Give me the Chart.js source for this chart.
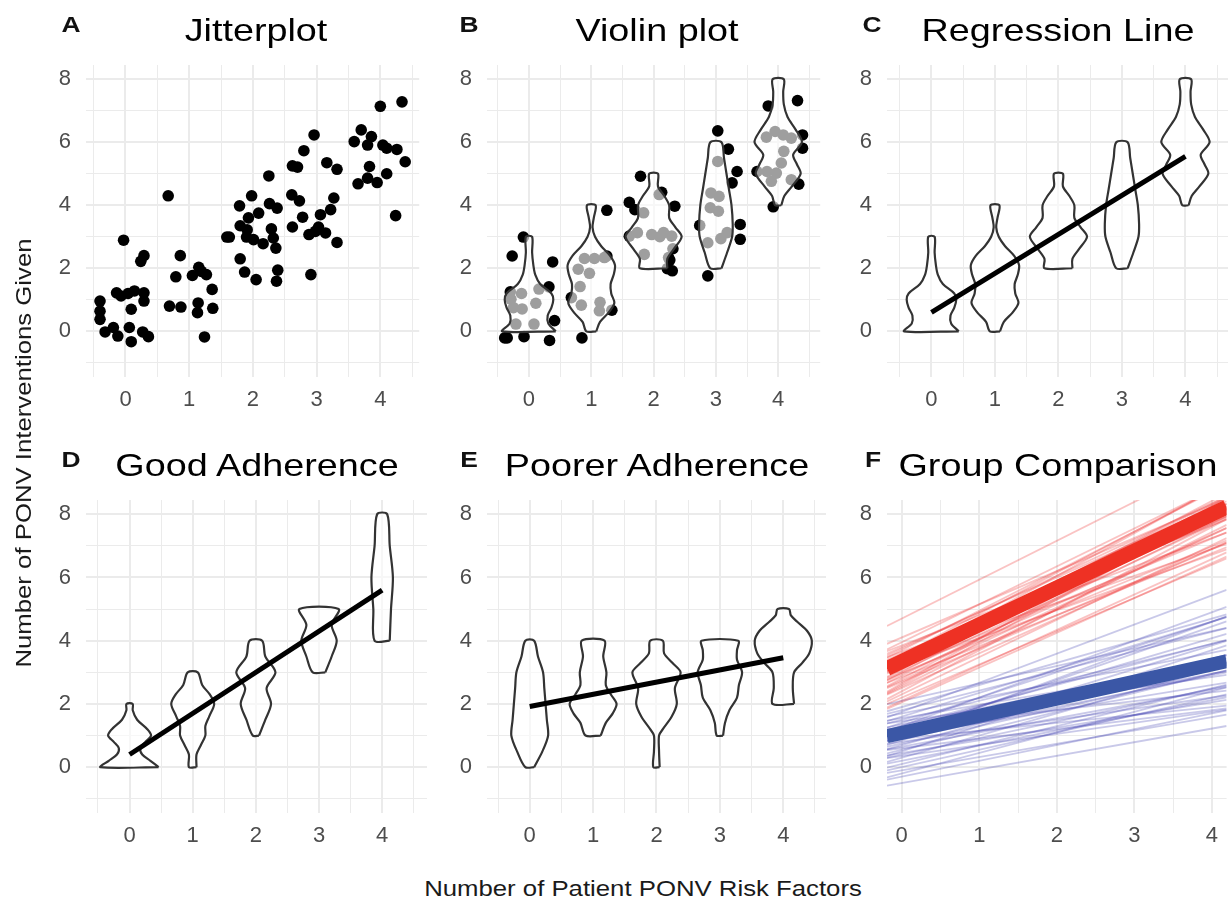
<!DOCTYPE html>
<html>
<head>
<meta charset="utf-8">
<title>PONV risk factors and interventions</title>
<script src="https://cdn.jsdelivr.net/npm/chart.js@4.4.1/dist/chart.umd.min.js"></script>
<style>
  html, body { margin: 0; padding: 0; background: #fff; overflow: hidden; }
  #figure { position: relative; width: 1228px; height: 901px; font-family: 'Liberation Sans', Arial, sans-serif; }
  #figure canvas { position: absolute; }
  .txt { position: absolute; width: 600px; text-align: center; white-space: nowrap; transform-origin: 50% 50%; }
  .title { font-size: 32px; line-height: 40px; color: #000; transform: scaleX(1.18); }
  .tag { font-size: 22px; line-height: 24px; font-weight: bold; color: #111; transform: scaleX(1.2); }
  .axis { font-size: 22px; line-height: 26px; color: #1a1a1a; }
</style>
</head>
<body>
<div id="figure"></div>
<script>
// ---------------- data ----------------
const RISK_FACTORS = [0, 1, 2, 3, 4];
const X_GRID = [-0.5, 0, 0.5, 1, 1.5, 2, 2.5, 3, 3.5, 4, 4.5];
const Y_GRID = [-1, 0, 1, 2, 3, 4, 5, 6, 7, 8];
const Y_LABELS = [0, 2, 4, 6, 8];

const PANEL_TAGS = ['A', 'B', 'C', 'D', 'E', 'F'];
const PANEL_TITLES = ['Jitterplot', 'Violin plot', 'Regression Line', 'Good Adherence', 'Poorer Adherence', 'Group Comparison'];
const X_TITLE = 'Number of Patient PONV Risk Factors';
const Y_TITLE = 'Number of PONV Interventions Given';

// A: jittered patients (risk factors, interventions)
const JITTER_X = [-0.40, -0.40, -0.40, -0.32, -0.19, -0.12, -0.14, -0.07, -0.03, 0.04, 0.14, 0.09, 0.06, 0.09, 0.24, 0.29, 0.29, 0.29, 0.27, 0.36,
  0.67, 0.86, 0.79, 0.69, 0.87, 1.05, 1.15, 1.19, 1.27, 1.14, 1.13, 1.36, 1.37, 1.24,
  1.59, 1.63, 1.79, 1.80, 1.80, 1.87, 1.98, 1.93, 2.09, 1.91, 1.90, 2.01, 2.16, 2.05, 2.25, 2.26, 2.38, 2.29, 2.32, 2.36, 2.39, 2.37,
  2.62, 2.70, 2.80, 2.96, 2.61, 2.73, 2.62, 2.78, 2.88, 2.98, 3.03, 3.14, 3.06, 3.22, 3.27, 3.16, 3.32, 3.32, 2.91,
  3.59, 3.70, 3.86, 3.80, 3.65, 3.83, 3.80, 3.95, 4.00, 4.04, 4.10, 4.10, 4.26, 4.24, 4.34, 4.39];
const JITTER_Y = [0.96, 0.64, 0.38, -0.02, 0.12, -0.15, 1.22, 1.12, 2.89, 1.20, 1.28, 0.70, 0.12, -0.33, 2.22, 2.40, 1.22, 0.96, -0.02, -0.17,
  4.30, 2.40, 1.73, 0.80, 0.77, 1.77, 2.03, 1.90, 1.80, 0.90, 0.59, 1.33, 0.73, -0.18,
  2.99, 2.99, 3.98, 3.35, 2.30, 1.88, 4.30, 3.60, 3.75, 3.22, 2.99, 2.91, 2.78, 1.64, 4.93, 4.05, 3.91, 3.25, 2.96, 2.64, 1.94, 1.59,
  5.25, 5.21, 5.73, 6.23, 4.33, 4.14, 3.31, 3.62, 3.07, 3.17, 3.31, 3.12, 3.70, 3.86, 4.23, 5.35, 5.14, 2.82, 1.80,
  6.02, 6.39, 6.18, 5.91, 4.68, 5.23, 4.86, 4.72, 7.14, 5.91, 5.81, 5.00, 5.77, 3.67, 7.28, 5.38];

// B: jittered patients under the violins
const VIOLIN_PTS_X = [-0.39, -0.35, -0.08, 0.33, -0.09, -0.27, 0.38, 0.32, 0.41, -0.30, -0.29, -0.12, -0.11, -0.21, 0.11, 0.08, 0.16, -0.25,
  0.85, 1.25, 1.25, 1.33, 0.68, 0.79, 0.82, 0.84, 0.89, 0.97, 1.05, 1.21, 1.14, 1.13,
  1.79, 1.61, 1.70, 2.34, 2.31, 2.26, 2.22, 2.30, 2.13, 1.84, 1.74, 1.61, 1.85, 1.97, 2.09, 2.16, 2.29, 2.24, 2.10,
  3.03, 3.20, 3.34, 3.26, 3.39, 3.39, 2.74, 2.87, 3.03, 2.92, 3.05, 2.91, 3.04, 2.87, 3.08, 3.18,
  3.84, 4.31, 4.39, 4.39, 4.33, 3.92, 3.66, 3.95, 4.08, 4.21, 4.09, 4.05, 3.97, 3.82, 3.89, 4.21, 3.81];
const VIOLIN_PTS_Y = [-0.21, -0.21, -0.17, -0.29, 2.99, 2.39, 2.20, 1.41, 0.34, 1.25, 1.02, 1.20, 0.71, 0.23, 0.89, 0.23, 1.34, 0.75,
  -0.21, 3.84, 2.39, 0.67, 1.07, 1.97, 1.42, 0.83, 2.31, 1.84, 2.31, 2.34, 0.92, 0.65,
  4.92, 4.09, 3.86, 3.97, 2.62, 2.26, 1.99, 1.92, 4.41, 3.76, 3.13, 3.02, 2.44, 3.07, 4.34, 3.13, 3.02, 2.34, 3.00,
  6.36, 5.78, 5.07, 4.71, 3.39, 2.92, 3.36, 1.76, 5.39, 4.39, 4.28, 3.92, 3.81, 2.81, 2.94, 3.13,
  7.15, 7.32, 6.23, 5.81, 4.67, 3.95, 5.07, 6.34, 6.23, 6.13, 5.71, 5.34, 5.02, 5.07, 4.76, 4.81, 6.16];

// violin outlines: levels and half widths per risk factor (all patients, B and C)
const ALL_VIOLIN_Y = [
  [0, 0.25, 0.5, 0.75, 1.0, 1.2, 1.5, 1.8, 2.1, 2.5, 3.0],
  [0, 0.3, 0.6, 0.9, 1.2, 1.5, 1.8, 2.1, 2.4, 2.7, 3.0, 3.3, 3.6, 4.0],
  [2, 2.3, 2.6, 3.0, 3.3, 3.6, 4.0, 4.3, 4.6, 5.0],
  [2, 2.5, 3.0, 3.4, 4.0, 4.5, 5.0, 5.5, 6.0],
  [4, 4.3, 4.6, 5.0, 5.3, 5.6, 6.0, 6.4, 6.8, 7.2, 7.6, 8.0]];
const ALL_VIOLIN_W = [
  [0.43, 0.31, 0.30, 0.36, 0.39, 0.36, 0.18, 0.10, 0.07, 0.05, 0.05],
  [0.08, 0.14, 0.28, 0.37, 0.32, 0.31, 0.36, 0.38, 0.30, 0.16, 0.06, 0.02, 0.04, 0.07],
  [0.22, 0.22, 0.32, 0.45, 0.35, 0.25, 0.25, 0.17, 0.07, 0.07],
  [0.09, 0.18, 0.26, 0.27, 0.25, 0.21, 0.17, 0.13, 0.09],
  [0.05, 0.10, 0.22, 0.36, 0.30, 0.24, 0.38, 0.28, 0.15, 0.09, 0.08, 0.09]];

// D: good adherence
const GOOD_VIOLIN_Y = [
  [0, 0.2, 0.4, 0.6, 0.8, 1.0, 1.2, 1.5, 1.8, 2.0],
  [0, 0.4, 0.7, 1.0, 1.3, 1.6, 2.0, 2.3, 2.6, 3.0],
  [1, 1.5, 2.0, 2.5, 3.0, 3.5, 4.0],
  [3, 3.5, 4.0, 4.5, 5.0],
  [4, 5, 6, 7, 8]];
const GOOD_VIOLIN_W = [
  [0.46, 0.33, 0.20, 0.17, 0.25, 0.34, 0.28, 0.12, 0.05, 0.05],
  [0.06, 0.06, 0.13, 0.20, 0.20, 0.26, 0.34, 0.27, 0.15, 0.08],
  [0.05, 0.15, 0.24, 0.17, 0.31, 0.15, 0.10],
  [0.10, 0.20, 0.28, 0.20, 0.31],
  [0.12, 0.14, 0.17, 0.12, 0.08]];

// E: poorer adherence
const POOR_VIOLIN_Y = [
  [0, 0.5, 1.0, 1.5, 2.0, 2.5, 3.0, 3.5, 4.0],
  [1, 1.4, 1.7, 2.0, 2.3, 2.6, 3.0, 3.5, 4.0],
  [0, 0.5, 1.0, 1.2, 1.6, 2.0, 2.5, 3.0, 3.3, 3.6, 4.0],
  [1, 1.4, 1.8, 2.2, 2.6, 3.0, 3.4, 3.7, 4.0],
  [2, 2.5, 3.0, 3.3, 3.6, 4.0, 4.3, 4.6, 4.8, 5.0]];
const POOR_VIOLIN_W = [
  [0.07, 0.20, 0.29, 0.27, 0.25, 0.23, 0.21, 0.13, 0.07],
  [0.12, 0.20, 0.31, 0.37, 0.28, 0.20, 0.21, 0.16, 0.18],
  [0.05, 0.04, 0.04, 0.10, 0.24, 0.32, 0.29, 0.38, 0.25, 0.12, 0.10],
  [0.05, 0.08, 0.15, 0.27, 0.30, 0.35, 0.27, 0.27, 0.29],
  [0.17, 0.15, 0.17, 0.30, 0.41, 0.45, 0.38, 0.22, 0.12, 0.09]];

// fitted values at 0 and 4 risk factors
const REG_ALL = [0.60, 5.55];
const REG_GOOD = [0.40, 5.60];
const REG_POOR = [1.92, 3.46];

// F: posterior draws (intercept, slope) per group, and the group means
const RED_INTERCEPTS = [4.70, 3.95, 3.80, 3.70, 3.60, 3.55, 3.50, 3.45, 3.40, 3.38, 3.30, 3.25, 3.22, 3.15, 3.10, 3.05, 3.00, 2.95, 2.90, 2.85,
  2.80, 2.75, 2.70, 2.60, 2.55, 2.50, 2.40, 2.30, 2.20, 2.10, 3.65, 3.85, 3.20, 2.65, 3.35, 3.75, 2.05, 3.50, 4.10, 2.98];
const RED_SLOPES = [1.23, 1.20, 1.10, 1.25, 1.05, 1.30, 1.15, 1.22, 1.08, 1.18, 1.28, 1.12, 1.20, 1.02, 1.25, 1.15, 1.32, 1.10, 1.20, 0.98,
  1.28, 1.15, 1.05, 1.35, 1.22, 1.10, 1.30, 1.18, 1.05, 1.12, 0.90, 0.95, 0.88, 1.40, 1.35, 1.15, 1.10, 0.85, 1.05, 1.00];
const BLUE_INTERCEPTS = [1.75, 2.10, 1.90, 1.60, 1.50, 1.40, 1.35, 1.30, 1.20, 1.15, 1.10, 1.05, 1.00, 0.95, 0.90, 0.85, 0.80, 0.75, 0.70, 0.65,
  0.60, 0.55, 0.50, 0.45, 0.40, 0.30, 0.20, 0.10, 0.00, -0.10, -0.20, -0.30, -0.50, 1.45, 1.25, 0.90, 1.70, 1.55, 1.80, 0.35, 1.00, 1.30];
const BLUE_SLOPES = [0.92, 0.55, 0.70, 0.75, 0.60, 0.80, 0.50, 0.65, 0.72, 0.45, 0.58, 0.85, 0.40, 0.62, 0.50, 0.75, 0.35, 0.55, 0.68, 0.45,
  0.30, 0.60, 0.80, 0.40, 0.52, 0.70, 0.48, 0.60, 0.55, 0.42, 0.65, 0.50, 0.43, 0.35, 0.28, 0.25, 0.48, 0.42, 0.62, 0.35, 0.90, 0.90];
const RED_MEAN = [3.34, 1.165];
const BLUE_MEAN = [1.08, 0.542];

// ---------------- styling / layout ----------------
const GRID_COLOR = '#EBEBEB';
const TICK_COLOR = '#4D4D4D';
const TICK_FONT = { family: "'Liberation Sans', Arial, sans-serif", size: 22 };
const Y_AXIS_W = 60;   // room for y tick labels
const X_AXIS_H = 45;   // room for x tick labels
const TOP_PAD = 40;
const Y_MIN = -1.45, Y_MAX = 8.45;
const F_X_MIN = -0.19, F_X_MAX = 4.19;

const fig = document.getElementById('figure');

function violinOutline(center, ys, ws) {
  const right = ys.map((y, i) => ({ x: center + ws[i], y: y }));
  const left = ys.map((y, i) => ({ x: center - ws[i], y: y })).reverse();
  return right.concat(left, [right[0]]);
}

function violinDatasets(ysList, wsList) {
  return RISK_FACTORS.map((c, i) => ({
    type: 'line',
    data: violinOutline(c, ysList[i], wsList[i]),
    borderColor: '#333333',
    borderWidth: 2.2,
    backgroundColor: 'rgba(255,255,255,0.62)',
    fill: 'shape',
    pointRadius: 0,
    tension: 0.3,
    order: 1
  }));
}

function pointsDataset(xs, ys) {
  return {
    data: xs.map((x, i) => ({ x: x, y: ys[i] })),
    backgroundColor: '#000',
    borderWidth: 0,
    pointRadius: 5.8,
    order: 2
  };
}

function regressionDataset(fit) {
  return {
    type: 'line',
    data: [{ x: RISK_FACTORS[0], y: fit[0] }, { x: RISK_FACTORS[4], y: fit[1] }],
    borderColor: '#000',
    borderWidth: 5,
    pointRadius: 0,
    order: 0
  };
}

function ablines(intercepts, slopes, color, width, order) {
  return intercepts.map((a, i) => ({
    type: 'line',
    data: [{ x: F_X_MIN, y: a + slopes[i] * F_X_MIN }, { x: F_X_MAX, y: a + slopes[i] * F_X_MAX }],
    borderColor: color,
    borderWidth: width,
    pointRadius: 0,
    clip: 0,
    order: order
  }));
}

const PANELS = [
  { left: 86, right: 425, top: 65, bottom: 377, xMin: -0.62, xMax: 4.61,
    datasets: [pointsDataset(JITTER_X, JITTER_Y)] },
  { left: 487, right: 826, top: 65, bottom: 377, xMin: -0.674, xMax: 4.674,
    datasets: violinDatasets(ALL_VIOLIN_Y, ALL_VIOLIN_W).concat([pointsDataset(VIOLIN_PTS_X, VIOLIN_PTS_Y)]) },
  { left: 887, right: 1228, top: 65, bottom: 377, xMin: -0.70, xMax: 4.67,
    datasets: violinDatasets(ALL_VIOLIN_Y, ALL_VIOLIN_W).concat([regressionDataset(REG_ALL)]) },
  { left: 86, right: 427, top: 500, bottom: 813, xMin: -0.69, xMax: 4.71,
    datasets: violinDatasets(GOOD_VIOLIN_Y, GOOD_VIOLIN_W).concat([regressionDataset(REG_GOOD)]) },
  { left: 487, right: 826, top: 500, bottom: 813, xMin: -0.674, xMax: 4.674,
    datasets: violinDatasets(POOR_VIOLIN_Y, POOR_VIOLIN_W).concat([regressionDataset(REG_POOR)]) },
  { left: 887, right: 1228, top: 500, bottom: 813, xMin: F_X_MIN, xMax: F_X_MAX,
    datasets: ablines(RED_INTERCEPTS, RED_SLOPES, 'rgba(236,40,40,0.28)', 1.8, 4)
      .concat(ablines(BLUE_INTERCEPTS, BLUE_SLOPES, 'rgba(60,60,175,0.28)', 1.8, 4))
      .concat(ablines([BLUE_MEAN[0]], [BLUE_MEAN[1]], '#3B57A6', 14, 2))
      .concat(ablines([RED_MEAN[0]], [RED_MEAN[1]], '#EE3124', 15, 1)) }
];

function makePanel(p) {
  const canvas = document.createElement('canvas');
  const w = Y_AXIS_W + p.right - p.left;
  const h = TOP_PAD + p.bottom - p.top + X_AXIS_H;
  canvas.width = w;
  canvas.height = h;
  canvas.style.left = (p.left - Y_AXIS_W) + 'px';
  canvas.style.top = (p.top - TOP_PAD) + 'px';
  canvas.style.width = w + 'px';
  canvas.style.height = h + 'px';
  fig.appendChild(canvas);

  new Chart(canvas, {
    type: 'scatter',
    data: { datasets: p.datasets },
    options: {
      responsive: false,
      animation: false,
      devicePixelRatio: 1,
      layout: { padding: { top: TOP_PAD, left: 0, right: 0, bottom: 0 } },
      plugins: { legend: { display: false }, tooltip: { enabled: false } },
      scales: {
        x: {
          type: 'linear',
          min: p.xMin,
          max: p.xMax,
          afterBuildTicks: s => { s.ticks = X_GRID.filter(v => v >= p.xMin && v <= p.xMax).map(v => ({ value: v })); },
          afterFit: s => { s.height = X_AXIS_H; },
          border: { display: false },
          grid: {
            color: GRID_COLOR,
            drawTicks: false,
            lineWidth: c => (c.tick && RISK_FACTORS.includes(c.tick.value)) ? 2 : 1
          },
          ticks: {
            autoSkip: false, maxRotation: 0, padding: 10,
            color: TICK_COLOR, font: TICK_FONT,
            callback: v => RISK_FACTORS.includes(v) ? String(v) : ''
          }
        },
        y: {
          type: 'linear',
          min: Y_MIN,
          max: Y_MAX,
          afterBuildTicks: s => { s.ticks = Y_GRID.map(v => ({ value: v })); },
          afterFit: s => { s.width = Y_AXIS_W; },
          border: { display: false },
          grid: {
            color: GRID_COLOR,
            drawTicks: false,
            lineWidth: c => (c.tick && Y_LABELS.includes(c.tick.value)) ? 2 : 1
          },
          ticks: {
            autoSkip: false, padding: 15,
            color: TICK_COLOR, font: TICK_FONT,
            callback: v => Y_LABELS.includes(v) ? String(v) : ''
          }
        }
      }
    }
  });
}

function addText(cls, text, cx, top, extraTransform) {
  const d = document.createElement('div');
  d.className = 'txt ' + cls;
  d.textContent = text;
  d.style.left = (cx - 300) + 'px';
  d.style.top = top + 'px';
  if (extraTransform) d.style.transform = extraTransform;
  fig.appendChild(d);
}

PANELS.forEach(makePanel);

// panel titles and tags
const TITLE_CX = [255.5, 656.5, 1057.5, 256.5, 656.5, 1057.5];
const TAG_CX = [71, 469, 872, 71, 469, 873];
PANEL_TITLES.forEach((t, i) => {
  const row = i < 3 ? 0 : 1;
  addText('title', t, TITLE_CX[i], row ? 445 : 10);
  addText('tag', PANEL_TAGS[i], TAG_CX[i], row ? 448 : 13);
});

// shared axis titles
addText('axis', X_TITLE, 642.5, 876, 'scaleX(1.17)');
addText('axis', Y_TITLE, 24, 440, 'rotate(-90deg) scaleX(1.17)');
</script>
</body>
</html>
